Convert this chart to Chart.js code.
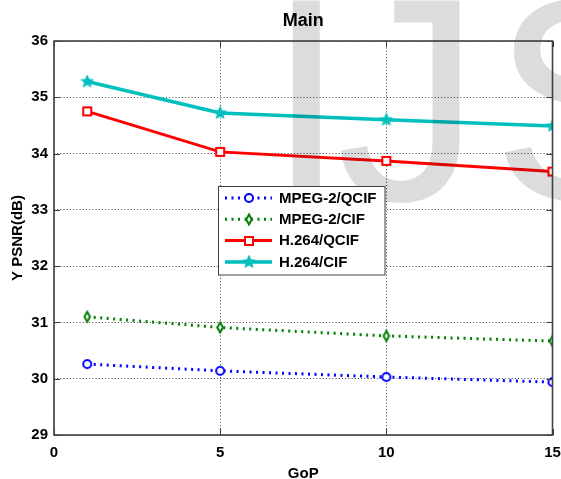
<!DOCTYPE html>
<html>
<head>
<meta charset="utf-8">
<style>
  html, body { margin: 0; padding: 0; background: #ffffff; }
  #wrap { width: 561px; height: 479px; }
</style>
<script src="https://cdn.jsdelivr.net/npm/chart.js@4.4.0/dist/chart.umd.min.js"></script>
</head>
<body>
<div id="wrap"><canvas id="c" width="561" height="479"></canvas></div>
<script>
// GoP sizes and measured luma PSNR (dB) per codec / resolution
const gop = [1, 5, 10, 15];
const mpeg2Qcif = [30.26, 30.14, 30.03, 29.94];
const mpeg2Cif  = [31.10, 30.91, 30.76, 30.67];
const h264Qcif  = [34.75, 34.03, 33.87, 33.68];
const h264Cif   = [35.28, 34.72, 34.60, 34.49];
const seriesNames = ['MPEG-2/QCIF', 'MPEG-2/CIF', 'H.264/QCIF', 'H.264/CIF'];
const xTicks = [0, 5, 10, 15];
const yTicks = [29, 30, 31, 32, 33, 34, 35, 36];

const FONT = "'Liberation Sans', Arial, Helvetica, sans-serif";

function marker(w, h, paint) {
  const c = document.createElement('canvas');
  c.width = w; c.height = h;
  paint(c.getContext('2d'));
  return c;
}
const circleMark = marker(12, 12, g => {
  g.beginPath(); g.arc(6, 6, 4, 0, Math.PI * 2);
  g.fillStyle = '#ffffff'; g.fill();
  g.lineWidth = 2; g.strokeStyle = '#0000ff'; g.stroke();
});
const diamondMark = marker(10, 15, g => {
  g.beginPath();
  g.moveTo(5, 2.5); g.lineTo(7.8, 7.5); g.lineTo(5, 12.5); g.lineTo(2.2, 7.5); g.closePath();
  g.fillStyle = '#ffffff'; g.fill();
  g.lineWidth = 2; g.strokeStyle = '#008000'; g.stroke();
});
const squareMark = marker(12, 12, g => {
  g.beginPath(); g.rect(2, 2, 8, 8);
  g.fillStyle = '#ffffff'; g.fill();
  g.lineWidth = 2; g.strokeStyle = '#ff0000'; g.stroke();
});
const starMark = marker(14, 14, g => {
  g.beginPath();
  for (let i = 0; i < 10; i++) {
    const r = i % 2 === 0 ? 6 : 2.7;
    const a = -Math.PI / 2 + i * Math.PI / 5;
    const px = 7 + r * Math.cos(a), py = 7 + r * Math.sin(a);
    if (i === 0) g.moveTo(px, py); else g.lineTo(px, py);
  }
  g.closePath();
  g.fillStyle = '#00bfbf'; g.fill();
  g.lineWidth = 1.2; g.strokeStyle = '#00bfbf'; g.stroke();
});

function pts(values) { return gop.map((g, i) => ({ x: g, y: values[i] })); }

const datasets = [
  { label: seriesNames[0], data: pts(mpeg2Qcif), borderColor: '#0000ff', borderWidth: 3, borderDash: [2, 4.5], pointStyle: circleMark },
  { label: seriesNames[1], data: pts(mpeg2Cif),  borderColor: '#008000', borderWidth: 3, borderDash: [2, 4.5], pointStyle: diamondMark },
  { label: seriesNames[2], data: pts(h264Qcif),  borderColor: '#ff0000', borderWidth: 3, borderDash: [],      pointStyle: squareMark },
  { label: seriesNames[3], data: pts(h264Cif),   borderColor: '#00bfbf', borderWidth: 3.5, borderDash: [],    pointStyle: starMark }
].map(d => Object.assign(d, { fill: false, tension: 0, borderCapStyle: 'butt', pointRadius: 5, backgroundColor: d.borderColor }));

// Axes box, inward tick marks, background lettering and the in-plot legend
const framePlugin = {
  id: 'frame',
  afterDatasetsDraw(chart) {
    const ctx = chart.ctx;
    ctx.save();
    ctx.globalCompositeOperation = 'multiply';
    ctx.fillStyle = '#dcdcdc';
    ctx.font = "290px " + FONT;
    ctx.textBaseline = 'alphabetic';
    ctx.textAlign = 'left';
    ctx.fillText('I', 266, 200);
    ctx.fillText('J', 336, 200);
    ctx.fillText('S', 491.5, 200);
    ctx.restore();
  },
  afterDraw(chart) {
    const ctx = chart.ctx;
    const a = chart.chartArea;
    const xs = chart.scales.x, ys = chart.scales.y;
    ctx.save();
    ctx.strokeStyle = '#3a3a3a';
    ctx.lineWidth = 1;
    ctx.beginPath();
    xTicks.forEach(v => {
      const p = Math.round(xs.getPixelForValue(v)) + 0.5;
      ctx.moveTo(p, a.bottom); ctx.lineTo(p, a.bottom - 6);
      ctx.moveTo(p, a.top); ctx.lineTo(p, a.top + 6);
    });
    yTicks.forEach(v => {
      const p = Math.round(ys.getPixelForValue(v)) + 0.5;
      ctx.moveTo(a.left, p); ctx.lineTo(a.left + 6, p);
      ctx.moveTo(a.right, p); ctx.lineTo(a.right - 6, p);
    });
    ctx.stroke();
    ctx.lineWidth = 1.6;
    ctx.strokeStyle = '#404040';
    ctx.strokeRect(a.left, a.top, a.right - a.left, a.bottom - a.top);

    // legend
    const bx = 218.5, by = 186.5, bw = 166.5, bh = 88.5;
    ctx.fillStyle = '#ffffff';
    ctx.fillRect(bx, by, bw, bh);
    ctx.lineWidth = 1;
    ctx.strokeStyle = '#404040';
    ctx.strokeRect(bx, by, bw, bh);
    ctx.font = "bold 15px " + FONT;
    ctx.textBaseline = 'middle';
    ctx.textAlign = 'left';
    chart.data.datasets.forEach((d, i) => {
      const y = 198 + i * 21.3;
      ctx.save();
      ctx.strokeStyle = d.borderColor;
      ctx.lineWidth = d.borderWidth;
      ctx.setLineDash(d.borderDash);
      ctx.beginPath();
      ctx.moveTo(225, y); ctx.lineTo(272, y);
      ctx.stroke();
      ctx.restore();
      const m = d.pointStyle;
      ctx.drawImage(m, Math.round(249 - m.width / 2), Math.round(y - m.height / 2));
      ctx.fillStyle = '#000000';
      ctx.fillText(d.label, 279, y + 0.5);
    });
    ctx.restore();
  }
};

new Chart(document.getElementById('c'), {
  type: 'line',
  data: { datasets },
  plugins: [framePlugin],
  options: {
    responsive: false,
    animation: false,
    events: [],
    devicePixelRatio: 1,
    layout: { padding: { left: 0, right: 7, top: 0, bottom: 0 } },
    plugins: {
      legend: { display: false },
      tooltip: { enabled: false },
      title: {
        display: true,
        fullSize: false,
        text: 'Main',
        color: '#000000',
        font: { family: FONT, size: 18, weight: 'bold', lineHeight: 1.2 },
        padding: { top: 10, bottom: 9.4 }
      }
    },
    scales: {
      x: {
        type: 'linear',
        min: 0, max: 15,
        afterBuildTicks(s) { s.ticks = xTicks.map(v => ({ value: v })); },
        afterFit(s) { s.height = 44; s.paddingLeft = 0; s.paddingRight = 0; },
        ticks: { color: '#000000', padding: 8.5, maxRotation: 0, autoSkip: false,
                 font: { family: FONT, size: 15, weight: 'bold', lineHeight: 1.2 } },
        grid: { color: 'rgba(0,0,0,0.75)', lineWidth: 1, drawTicks: false },
        border: { display: false, dash: [1, 2.2] },
        title: { display: true, text: 'GoP', color: '#000000',
                 font: { family: FONT, size: 15, weight: 'bold', lineHeight: 1 },
                 padding: { top: 0, bottom: -2.5 } }
      },
      y: {
        type: 'linear',
        min: 29, max: 36,
        afterBuildTicks(s) { s.ticks = yTicks.map(v => ({ value: v })); },
        afterFit(s) { s.width = 54; s.paddingTop = 0; s.paddingBottom = 0; },
        ticks: { color: '#000000', padding: 6, autoSkip: false,
                 font: { family: FONT, size: 15, weight: 'bold', lineHeight: 1.2 } },
        grid: { color: 'rgba(0,0,0,0.75)', lineWidth: 1, drawTicks: false },
        border: { display: false, dash: [1, 2.2] },
        title: { display: true, text: 'Y PSNR(dB)', color: '#000000',
                 font: { family: FONT, size: 15, weight: 'bold', lineHeight: 1 },
                 padding: { top: 10, bottom: 0 } }
      }
    }
  }
});
</script>
</body>
</html>
